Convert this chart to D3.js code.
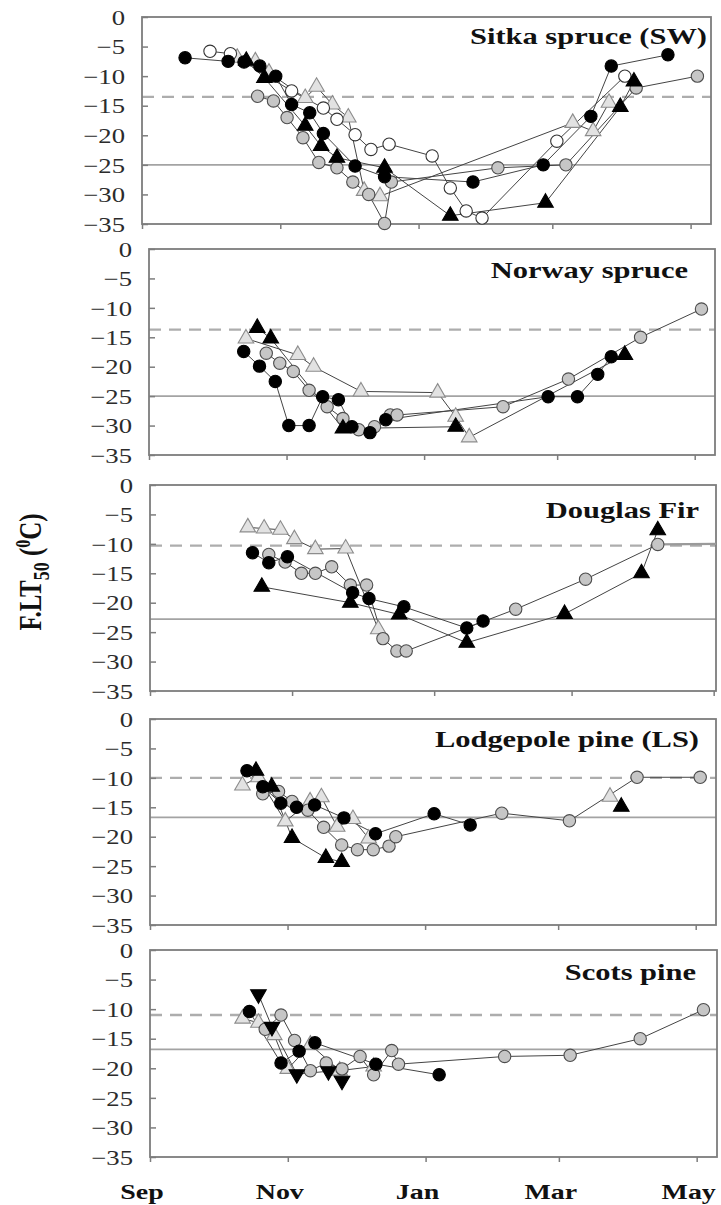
<!DOCTYPE html>
<html>
<head>
<meta charset="utf-8">
<script src="https://cdn.jsdelivr.net/npm/d3@7"></script>
<style>
  body { margin: 0; background: #fff; }
  text { font-family: "Liberation Serif", "Times New Roman", serif; }
</style>
</head>
<body>
<svg id="chart" width="721" height="1205"></svg>
<script>
// ---- data ----
const panelTitles = ["Sitka spruce (SW)", "Norway spruce", "Douglas Fir", "Lodgepole pine (LS)", "Scots pine"];
const monthTickDates = ["2000-09-01", "2000-11-01", "2001-01-01", "2001-03-01", "2001-05-01"];
const monthTickLabels = ["Sep", "Nov", "Jan", "Mar", "May"];
const yTickValues = [0, -5, -10, -15, -20, -25, -30, -35];
const domainStart = "2000-09-01";
const domainEnds = ["2001-05-10", "2001-05-10", "2001-05-02", "2001-05-10", "2001-05-10"];
const dashedLevels = [-13.5, -13.7, -10.3, -10, -11];
const solidLevels = [-25, -25, -22.8, -16.7, -16.8];

// Sitka spruce
const sitkaBlackCircle = [["2000-09-20",-6.9],["2000-10-09",-7.5],["2000-10-16",-7.6],["2000-10-23",-8.3],["2000-10-30",-10],["2000-11-06",-14.8],["2000-11-14",-16.2],["2000-11-20",-19.7],["2000-12-04",-25.2],["2000-12-17",-27],["2001-01-25",-27.9],["2001-02-25",-25],["2001-03-18",-16.8],["2001-03-27",-8.3],["2001-04-21",-6.4]];
const sitkaOpenCircle = [["2000-10-01",-5.8],["2000-10-10",-6.2],["2000-11-06",-12.5],["2000-11-20",-15.4],["2000-11-26",-17.3],["2000-12-04",-19.9],["2000-12-11",-22.4],["2000-12-19",-21.5],["2001-01-07",-23.5],["2001-01-15",-28.9],["2001-01-22",-32.8],["2001-01-29",-34],["2001-03-03",-21],["2001-04-02",-10]];
const sitkaGrayCircle = [["2000-10-22",-13.4],["2000-10-29",-14.2],["2000-11-04",-17],["2000-11-11",-20.4],["2000-11-18",-24.6],["2000-11-26",-25.5],["2000-12-03",-27.9],["2000-12-10",-30],["2000-12-17",-34.9],["2000-12-20",-27.9],["2001-02-05",-25.5],["2001-03-07",-25],["2001-04-07",-12],["2001-05-04",-10]];
const sitkaBlackTriangle = [["2000-10-17",-7.4],["2000-10-25",-10.3],["2000-11-12",-18.4],["2000-11-19",-21.8],["2000-11-26",-23.8],["2000-12-17",-25.5],["2001-01-15",-33.6],["2001-02-26",-31.4],["2001-03-31",-15.2],["2001-04-06",-10.9]];
const sitkaOpenTriangle = [["2000-10-13",-6.9],["2000-10-21",-7.5],["2000-10-27",-9.4],["2000-11-12",-13.7],["2000-11-17",-11.8],["2000-11-24",-14.8],["2000-12-01",-17],["2000-12-08",-29.4],["2000-12-15",-30.3],["2001-03-10",-17.9],["2001-03-19",-19.3],["2001-03-26",-14.5]];

// Norway spruce
const norwayBlackCircle = [["2000-10-13",-17.4],["2000-10-20",-19.9],["2000-10-27",-22.5],["2000-11-02",-30],["2000-11-11",-30],["2000-11-17",-25.1],["2000-11-24",-25.6],["2000-11-30",-30.2],["2000-12-08",-31.2],["2000-12-15",-29],["2001-02-25",-25.1],["2001-03-10",-25.1],["2001-03-19",-21.3],["2001-03-25",-18.3]];
const norwayBlackTriangle = [["2000-10-19",-13.4],["2000-10-25",-15.2],["2000-11-26",-30.5],["2001-01-15",-30.2]];
const norwayBlackTriangleLate = [["2001-03-31",-18]];
const norwayGrayCircle = [["2000-10-23",-17.7],["2000-10-29",-19.4],["2000-11-04",-20.8],["2000-11-11",-24],["2000-11-19",-26.8],["2000-11-26",-28.8],["2000-12-03",-30.7],["2000-12-10",-30.2],["2000-12-17",-28.2],["2000-12-20",-28.2],["2001-02-05",-26.8],["2001-03-06",-22.1],["2001-04-07",-15],["2001-05-04",-10.2]];
const norwayOpenTriangle = [["2000-10-14",-15.2],["2000-11-06",-18],["2000-11-13",-20],["2000-12-04",-24.2],["2001-01-07",-24.4],["2001-01-15",-28.5],["2001-01-21",-32],["2001-03-31",-18]];

// Douglas fir
const douglasOpenTriangle = [["2000-10-13",-7.2],["2000-10-20",-7.4],["2000-10-27",-7.6],["2000-11-02",-9.2],["2000-11-11",-10.9],["2000-11-24",-10.8],["2000-12-08",-24.5]];
const douglasBlackCircle = [["2000-10-15",-11.5],["2000-10-22",-13.2],["2000-10-30",-12.2],["2000-11-27",-18.3],["2000-12-04",-19.3],["2000-12-19",-20.7],["2001-01-15",-24.3],["2001-01-22",-23.1]];
const douglasGrayCircle = [["2000-10-22",-11.8],["2000-10-29",-13.1],["2000-11-05",-15],["2000-11-11",-15],["2000-11-18",-13.9],["2000-11-26",-17],["2000-12-03",-17],["2000-12-10",-26.1],["2000-12-16",-28.2],["2000-12-20",-28.2],["2001-02-05",-21.1],["2001-03-07",-16],["2001-04-07",-10.1]];
const douglasGrayTail = [["2001-04-07",-10.1],["2001-05-02",-10]];
const douglasBlackTriangle = [["2000-10-19",-17.3],["2000-11-26",-20],["2000-12-17",-22],["2001-01-15",-26.8],["2001-02-26",-21.9],["2001-03-31",-15],["2001-04-07",-7.7]];

// Lodgepole pine
const lodgeBlackCircle = [["2000-10-14",-8.8],["2000-10-21",-11.5],["2000-10-29",-14.3],["2000-11-05",-15],["2000-11-13",-14.6],["2000-11-26",-16.8],["2000-12-10",-19.5],["2001-01-05",-16.1],["2001-01-21",-18]];
const lodgeBlackTriangle = [["2000-10-18",-8.8],["2000-10-25",-11.5],["2000-11-03",-20.2],["2000-11-18",-23.6],["2000-11-25",-24.3]];
const lodgeBlackTriangleLate = [["2001-03-29",-14.9]];
const lodgeGrayCircle = [["2000-10-21",-12.7],["2000-10-28",-12.3],["2000-11-03",-14],["2000-11-10",-15.5],["2000-11-17",-18.4],["2000-11-25",-21.4],["2000-12-02",-22.2],["2000-12-09",-22.2],["2000-12-16",-21.6],["2000-12-19",-20],["2001-02-04",-16],["2001-03-06",-17.3],["2001-04-05",-9.9],["2001-05-03",-9.9]];
const lodgeOpenTriangle = [["2000-10-12",-11.3],["2000-10-19",-9.9],["2000-10-31",-17.4],["2000-11-11",-14],["2000-11-16",-13.3],["2000-11-23",-18.3],["2000-11-30",-17],["2000-12-07",-20.3]];
const lodgeOpenTriangleLate = [["2001-03-24",-13.2]];

// Scots pine
const scotsBlackTriangleDown = [["2000-10-19",-7.5],["2000-10-25",-13],["2000-11-05",-21],["2000-11-19",-20.5],["2000-11-25",-22.1]];
const scotsBlackCircle = [["2000-10-15",-10.4],["2000-10-29",-19.1],["2000-11-06",-17.1],["2000-11-13",-15.7],["2000-12-10",-19.3],["2001-01-07",-21.1]];
const scotsGrayCircle = [["2000-10-22",-13.4],["2000-10-29",-11],["2000-11-04",-15.3],["2000-11-11",-20.4],["2000-11-18",-19.1],["2000-11-25",-20.1],["2000-12-03",-18],["2000-12-09",-21.1],["2000-12-17",-17],["2000-12-20",-19.3],["2001-02-05",-18],["2001-03-06",-17.8],["2001-04-06",-15],["2001-05-04",-10.1]];
const scotsOpenTriangle = [["2000-10-12",-11.6],["2000-10-19",-12.3],["2000-10-26",-14.4],["2000-11-01",-20.1],["2000-11-11",-16],["2000-11-24",-20.4],["2000-12-09",-19.7]];

const panelSeries = [
  [["openTri", sitkaOpenTriangle], ["grayCircle", sitkaGrayCircle], ["openCircle", sitkaOpenCircle], ["blackCircle", sitkaBlackCircle], ["blackTri", sitkaBlackTriangle]],
  [["openTri", norwayOpenTriangle], ["grayCircle", norwayGrayCircle], ["blackCircle", norwayBlackCircle], ["blackTri", norwayBlackTriangle], ["blackTri", norwayBlackTriangleLate]],
  [["tail", douglasGrayTail], ["openTri", douglasOpenTriangle], ["grayCircle", douglasGrayCircle], ["blackCircle", douglasBlackCircle], ["blackTri", douglasBlackTriangle]],
  [["openTri", lodgeOpenTriangle], ["openTri", lodgeOpenTriangleLate], ["grayCircle", lodgeGrayCircle], ["blackCircle", lodgeBlackCircle], ["blackTri", lodgeBlackTriangle], ["blackTri", lodgeBlackTriangleLate]],
  [["openTri", scotsOpenTriangle], ["grayCircle", scotsGrayCircle], ["blackCircle", scotsBlackCircle], ["blackTriDown", scotsBlackTriangleDown]]
];

// ---- layout ----
const frames = [
  { l: 142, r: 711, t: 17, b: 224 },
  { l: 149, r: 715, t: 249, b: 455 },
  { l: 150, r: 716, t: 485, b: 691 },
  { l: 150, r: 716, t: 719, b: 925 },
  { l: 150, r: 717, t: 950, b: 1157 }
];
const titlePos = [[707, 44], [688, 278], [699, 518], [699, 747], [696, 980]];
const stretch = 1.27; // the figure text is wider than plain Times

const markerStyle = {
  openTri:      { shape: d3.symbolTriangle, size: 105, fill: "#e2e2e2", stroke: "#8c8c8c", rot: 0 },
  grayCircle:   { shape: d3.symbolCircle,   size: 120, fill: "#c6c6c6", stroke: "#4d4d4d", rot: 0 },
  openCircle:   { shape: d3.symbolCircle,   size: 120, fill: "#ffffff", stroke: "#333",    rot: 0 },
  blackCircle:  { shape: d3.symbolCircle,   size: 120, fill: "#000",    stroke: "#000",    rot: 0 },
  blackTri:     { shape: d3.symbolTriangle, size: 105, fill: "#000",    stroke: "#000",    rot: 0 },
  blackTriDown: { shape: d3.symbolTriangle, size: 105, fill: "#000",    stroke: "#000",    rot: 180 }
};

const parse = d3.timeParse("%Y-%m-%d");
const svg = d3.select("#chart");

frames.forEach((f, i) => {
  const x = d3.scaleTime().domain([parse(domainStart), parse(domainEnds[i])]).range([f.l, f.r]);
  const y = d3.scaleLinear().domain([-35, 0]).range([f.b, f.t]);
  const g = svg.append("g");

  // reference levels
  g.append("line")
    .attr("x1", f.l).attr("x2", f.r)
    .attr("y1", y(dashedLevels[i])).attr("y2", y(dashedLevels[i]))
    .attr("stroke", "#adadad").attr("stroke-width", 2.4).attr("stroke-dasharray", "12,8");
  g.append("line")
    .attr("x1", f.l).attr("x2", f.r)
    .attr("y1", y(solidLevels[i])).attr("y2", y(solidLevels[i]))
    .attr("stroke", "#a3a3a3").attr("stroke-width", 1.8);

  // y axis
  const ya = g.append("g").attr("transform", `translate(${f.l},0)`)
    .call(d3.axisLeft(y).tickValues(yTickValues).tickSize(-6).tickFormat(d3.format("d")));
  ya.select(".domain").remove();
  ya.selectAll(".tick line").attr("stroke", "#7d7d7d").attr("stroke-width", 1.5);
  ya.selectAll(".tick text")
    .attr("x", null).attr("dy", "0.34em")
    .attr("text-anchor", "end")
    .attr("transform", `translate(-17,0) scale(${stretch},1)`)
    .attr("fill", "#2b2b2b")
    .style("font-size", "21px")
    .style("font-family", '"Liberation Serif", "Times New Roman", serif');

  // x axis ticks
  const xa = g.append("g").attr("transform", `translate(0,${f.b})`)
    .call(d3.axisBottom(x).tickValues(monthTickDates.map(parse).filter(d => d <= parse(domainEnds[i]))).tickSize(5).tickFormat(""));
  xa.select(".domain").remove();
  xa.selectAll(".tick line").attr("stroke", "#7d7d7d").attr("stroke-width", 1.5);

  // frame
  g.append("rect")
    .attr("x", f.l).attr("y", f.t)
    .attr("width", f.r - f.l).attr("height", f.b - f.t)
    .attr("fill", "none").attr("stroke", "#7d7d7d").attr("stroke-width", 1.8);

  // lines
  const line = d3.line().x(d => x(parse(d[0]))).y(d => y(d[1]));
  panelSeries[i].forEach(([kind, pts]) => {
    const isTail = kind === "tail";
    g.append("path").datum(pts)
      .attr("d", line)
      .attr("fill", "none")
      .attr("stroke", isTail ? "#9a9a9a" : "#444")
      .attr("stroke-width", isTail ? 2.2 : 1);
  });

  // markers
  panelSeries[i].forEach(([kind, pts]) => {
    const st = markerStyle[kind];
    if (!st) return;
    const sym = d3.symbol().type(st.shape).size(st.size);
    g.append("g").selectAll("path").data(pts).join("path")
      .attr("d", sym)
      .attr("transform", d => `translate(${x(parse(d[0]))},${y(d[1])}) rotate(${st.rot})`)
      .attr("fill", st.fill)
      .attr("stroke", st.stroke)
      .attr("stroke-width", 1.1);
  });

  // panel title
  g.append("text")
    .attr("transform", `translate(${titlePos[i][0]},${titlePos[i][1]}) scale(${stretch},1)`)
    .attr("text-anchor", "end")
    .style("font-size", "24px")
    .style("font-weight", "bold")
    .attr("fill", "#111")
    .text(panelTitles[i]);

  // month labels on the bottom panel only
  if (i === frames.length - 1) {
    g.selectAll(".mlabel").data(monthTickDates).join("text")
      .attr("class", "mlabel")
      .attr("transform", d => `translate(${x(parse(d)) - 8},1199) scale(${stretch},1)`)
      .attr("text-anchor", "middle")
      .style("font-size", "22px")
      .style("font-weight", "bold")
      .attr("fill", "#111")
      .text((d, k) => monthTickLabels[k]);
  }
});

// y axis title
const yt = svg.append("text")
  .attr("transform", `translate(41,572) scale(${stretch},1) rotate(-90)`)
  .attr("text-anchor", "middle")
  .style("font-size", "25px")
  .style("font-weight", "bold")
  .attr("fill", "#111");
yt.append("tspan").text("F.LT");
yt.append("tspan").attr("dy", 6).style("font-size", "18px").text("50");
yt.append("tspan").attr("dy", -6).text(" (");
yt.append("tspan").attr("dy", -9).style("font-size", "16px").text("0");
yt.append("tspan").attr("dy", 9).text("C)");
</script>
</body>
</html>
